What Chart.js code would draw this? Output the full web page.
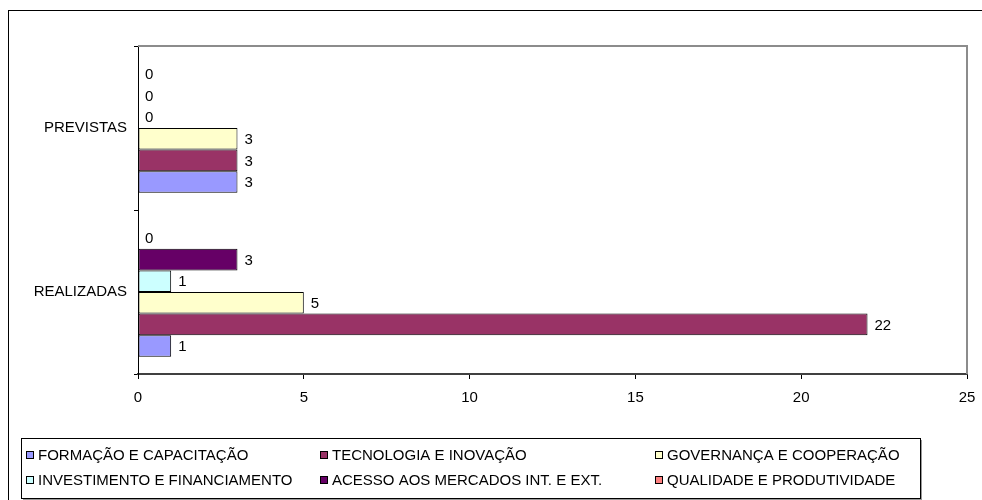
<!DOCTYPE html>
<html>
<head>
<meta charset="utf-8">
<script src="https://cdn.jsdelivr.net/npm/chart.js@4.4.1/dist/chart.umd.min.js"></script>
<style>
  body { margin: 0; background: #fff; }
</style>
</head>
<body>
<canvas id="chart" width="982" height="500"></canvas>
<script>
// categories, top to bottom
const categories = ["PREVISTAS", "REALIZADAS"];

// series in legend order
const seriesNames = [
  "FORMAÇÃO E CAPACITAÇÃO",
  "TECNOLOGIA E INOVAÇÃO",
  "GOVERNANÇA E COOPERAÇÃO",
  "INVESTIMENTO E FINANCIAMENTO",
  "ACESSO AOS MERCADOS INT. E EXT.",
  "QUALIDADE E PRODUTIVIDADE"
];
const formacao = [3, 1];
const tecnologia = [3, 22];
const governanca = [3, 5];
const investimento = [0, 1];
const acesso = [0, 3];
const qualidade = [0, 0];
const xTicks = [0, 5, 10, 15, 20, 25];

const seriesValues = [formacao, tecnologia, governanca, investimento, acesso, qualidade];
const colors = ["#9999FF", "#993366", "#FFFFCC", "#CCFFFF", "#660066", "#FF8080"];
const FONT = "'Liberation Sans', Arial, sans-serif";

// Excel stacks the first series at the bottom of each group, so feed them reversed
const datasets = seriesNames.map((name, i) => ({
  label: name,
  data: seriesValues[i],
  backgroundColor: colors[i],
  borderColor: "#000",
  borderWidth: 1,
  borderSkipped: false,
  categoryPercentage: 0.79,
  barPercentage: 1
})).reverse();

const frame = {
  id: "frame",
  beforeDraw(chart) {
    const c = chart.ctx;
    c.save();
    c.strokeStyle = "#000";
    c.lineWidth = 1;
    c.strokeRect(8.5, 10.5, 1000, 600);
    c.restore();
  },
  afterDraw(chart) {
    const c = chart.ctx;
    const a = chart.chartArea;
    c.save();
    // plot area border (top / right)
    c.strokeStyle = "#8c8c8c";
    c.lineWidth = 2;
    c.beginPath();
    c.moveTo(a.left, a.top);
    c.lineTo(a.right, a.top);
    c.lineTo(a.right, a.bottom);
    c.stroke();

    // value labels
    c.fillStyle = "#000";
    c.font = "15px " + FONT;
    c.textBaseline = "middle";
    c.textAlign = "left";
    chart.data.datasets.forEach((ds, di) => {
      const meta = chart.getDatasetMeta(di);
      meta.data.forEach((bar, j) => {
        c.fillText(String(ds.data[j]), bar.x + 7, bar.y + 1);
      });
    });

    // legend box
    const lx = 21, ly = 438, lw = 899, lh = 60;
    c.fillStyle = "#999";
    c.fillRect(lx + 2, ly + 2, lw, lh);
    c.fillStyle = "#fff";
    c.fillRect(lx, ly, lw, lh);
    c.strokeStyle = "#000";
    c.lineWidth = 1;
    c.strokeRect(lx + 0.5, ly + 0.5, lw, lh);

    const colX = [26, 320, 655];
    const rowY = [455, 480];
    c.font = "15px " + FONT;
    seriesNames.forEach((name, i) => {
      const x = colX[i % 3];
      const y = rowY[Math.floor(i / 3)];
      c.fillStyle = colors[i];
      c.fillRect(x, y - 4, 8, 8);
      c.strokeStyle = "#000";
      c.strokeRect(x + 0.5, y - 3.5, 7, 7);
      c.fillStyle = "#000";
      c.fillText(name, x + 12, y + 1);
    });
    c.restore();
  }
};

new Chart(document.getElementById("chart"), {
  type: "bar",
  data: { labels: categories, datasets: datasets },
  options: {
    indexAxis: "y",
    responsive: false,
    animation: false,
    layout: { padding: { top: 46, right: 0, left: 0, bottom: 0 } },
    plugins: { legend: { display: false }, tooltip: { enabled: false } },
    scales: {
      x: {
        min: 0,
        max: 25,
        afterBuildTicks(scale) { scale.ticks = xTicks.map(v => ({ value: v })); },
        afterFit(scale) { scale.height = 126; scale.paddingRight = 15; },
        ticks: { color: "#000", font: { family: FONT, size: 15 }, padding: 10, maxRotation: 0 },
        grid: { drawOnChartArea: false, tickLength: 5, tickColor: "#000" },
        border: { color: "#404040", width: 2 }
      },
      y: {
        afterFit(scale) { scale.width = 138; },
        ticks: { color: "#000", font: { family: FONT, size: 15 }, padding: 7 },
        grid: { drawOnChartArea: false, offset: true, tickLength: 4, tickColor: "#000" },
        border: { color: "#000", width: 1 }
      }
    }
  },
  plugins: [frame]
});
</script>
</body>
</html>
